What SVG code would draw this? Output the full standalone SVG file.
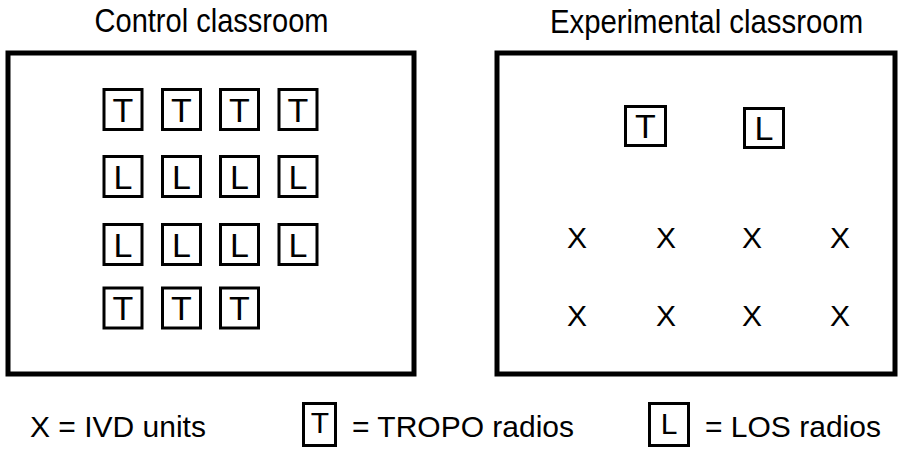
<svg xmlns="http://www.w3.org/2000/svg" width="899" height="451" viewBox="0 0 899 451">
<style>
text{font-family:"Liberation Sans",Arial,Helvetica,sans-serif;fill:#000}
.room{fill:none;stroke:#000;stroke-width:5}
.box{fill:#fff;stroke:#000;stroke-width:3}
.let{font-size:34px;text-anchor:middle}
.x{font-size:30px;text-anchor:middle}
.title{font-size:33px;text-anchor:middle}
.leg{font-size:30px}
.legl{font-size:30px;text-anchor:middle}
</style>
<rect width="899" height="451" fill="#fff"/>
<g id="connectors"/>
<g id="control-classroom">
<text class="title" transform="translate(211.5 32) scale(0.88 1)">Control classroom</text>
<rect class="room" x="8" y="53" width="406" height="321"/>
<g id="c-r1c1"><rect class="box" x="104" y="89.5" width="38" height="40"/><text class="let" x="123" y="121.5">T</text></g>
<g id="c-r1c2"><rect class="box" x="162.5" y="89.5" width="38" height="40"/><text class="let" x="181.5" y="121.5">T</text></g>
<g id="c-r1c3"><rect class="box" x="220.5" y="89.5" width="38" height="40"/><text class="let" x="239.5" y="121.5">T</text></g>
<g id="c-r1c4"><rect class="box" x="279" y="89.5" width="38" height="40"/><text class="let" x="298" y="121.5">T</text></g>
<g id="c-r2c1"><rect class="box" x="104" y="156.5" width="38" height="40"/><text class="let" x="123" y="188.5">L</text></g>
<g id="c-r2c2"><rect class="box" x="162.5" y="156.5" width="38" height="40"/><text class="let" x="181.5" y="188.5">L</text></g>
<g id="c-r2c3"><rect class="box" x="220.5" y="156.5" width="38" height="40"/><text class="let" x="239.5" y="188.5">L</text></g>
<g id="c-r2c4"><rect class="box" x="279" y="156.5" width="38" height="40"/><text class="let" x="298" y="188.5">L</text></g>
<g id="c-r3c1"><rect class="box" x="104" y="224.5" width="38" height="40"/><text class="let" x="123" y="256.5">L</text></g>
<g id="c-r3c2"><rect class="box" x="162.5" y="224.5" width="38" height="40"/><text class="let" x="181.5" y="256.5">L</text></g>
<g id="c-r3c3"><rect class="box" x="220.5" y="224.5" width="38" height="40"/><text class="let" x="239.5" y="256.5">L</text></g>
<g id="c-r3c4"><rect class="box" x="279" y="224.5" width="38" height="40"/><text class="let" x="298" y="256.5">L</text></g>
<g id="c-r4c1"><rect class="box" x="104" y="288" width="38" height="40"/><text class="let" x="123" y="320">T</text></g>
<g id="c-r4c2"><rect class="box" x="162.5" y="288" width="38" height="40"/><text class="let" x="181.5" y="320">T</text></g>
<g id="c-r4c3"><rect class="box" x="220.5" y="288" width="38" height="40"/><text class="let" x="239.5" y="320">T</text></g>
</g>
<g id="experimental-classroom">
<text class="title" transform="translate(706.5 33) scale(0.89 1)">Experimental classroom</text>
<rect class="room" x="497" y="53" width="398" height="321"/>
<g id="e-tropo"><rect class="box" x="625.5" y="106.5" width="40" height="39"/><text class="let" x="645.5" y="138">T</text></g>
<g id="e-los"><rect class="box" x="744.5" y="108.5" width="39" height="39"/><text class="let" x="764" y="140">L</text></g>
<g id="e-ivd">
<text class="x" x="577" y="248">X</text>
<text class="x" x="666" y="248">X</text>
<text class="x" x="752" y="248">X</text>
<text class="x" x="840" y="248">X</text>
<text class="x" x="577" y="326">X</text>
<text class="x" x="666" y="326">X</text>
<text class="x" x="752" y="326">X</text>
<text class="x" x="840" y="326">X</text>
</g>
</g>
<g id="legend">
<g id="legend-ivd"><text class="leg" x="30" y="437">X = IVD units</text></g>
<g id="legend-tropo"><rect class="box" x="303.5" y="403.5" width="32" height="42"/><text class="legl" x="320" y="433">T</text><text class="leg" x="352" y="437">= TROPO radios</text></g>
<g id="legend-los"><rect class="box" x="649.5" y="403.5" width="39" height="42"/><text class="legl" x="669" y="434">L</text><text class="leg" x="705" y="437">= LOS radios</text></g>
</g>
</svg>
